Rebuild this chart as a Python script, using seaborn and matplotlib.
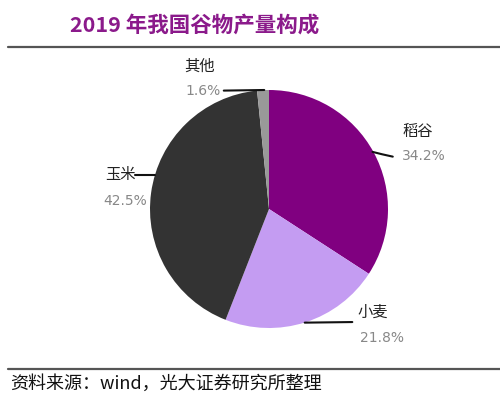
import seaborn as sns
import matplotlib.pyplot as plt
import numpy as np

# data
crops = ['稻谷', '小麦', '玉米', '其他']
shares = [34.2, 21.8, 42.5, 1.6]
pct_labels = ['34.2%', '21.8%', '42.5%', '1.6%']
colors = ['#800080', '#C49CF2', '#333333', '#999999']

sns.set_theme(style='white')
plt.rcParams['font.family'] = ['Noto Sans CJK SC', 'DejaVu Sans']

fig = plt.figure(figsize=(5, 4), dpi=100)
fig.patch.set_facecolor('white')

# title and rules
fig.text(0.14, 0.937, '2019 年我国谷物产量构成', fontsize=15.5, fontweight='bold',
         color='#8B1A8B', ha='left', va='center')
fig.add_artist(plt.Line2D([0.016, 1.0], [0.882, 0.882], color='#555555', lw=1.6))
fig.add_artist(plt.Line2D([0.016, 1.0], [0.078, 0.078], color='#555555', lw=1.6))
fig.text(0.02, 0.04, '资料来源：wind，光大证券研究所整理', fontsize=13,
         color='#111111', ha='left', va='center')

# pie
ax = fig.add_axes([0.3, 0.18, 0.476, 0.595])
wedges, _ = ax.pie(shares, colors=colors, startangle=90, counterclock=False,
                   wedgeprops=dict(linewidth=0))
ax.set_aspect('equal')
ax.set_xlim(-1, 1)
ax.set_ylim(-1, 1)
ax.axis('off')

# label layout: (name pos, pct pos, leader end)
layout = {
    '稻谷': ((1.25, 0.65), (1.30, 0.445), [(0.87, 0.48), (0.95, 0.46), (1.04, 0.44)]),
    '小麦': ((0.87, -0.87), (0.95, -1.085), [(0.30, -0.955), (0.70, -0.95)]),
    '玉米': ((-1.25, 0.286), (-1.21, 0.067), [(-0.96, 0.286), (-1.13, 0.286)]),
    '其他': ((-0.58, 1.20), (-0.555, 0.99), [(-0.04, 1.0), (-0.38, 0.995)]),
}
for name, pct in zip(crops, pct_labels):
    (nx, ny), (px, py), line = layout[name]
    ax.text(nx, ny, name, fontsize=11, color='#222222', ha='center', va='center',
            clip_on=False)
    ax.text(px, py, pct, fontsize=10, color='#888888', ha='center', va='center',
            family=['DejaVu Sans'], clip_on=False)
    xs, ys = zip(*line)
    ax.plot(xs, ys, color='#111111', lw=1.5, clip_on=False)

fig.savefig('out.png', dpi=100, facecolor='white')
